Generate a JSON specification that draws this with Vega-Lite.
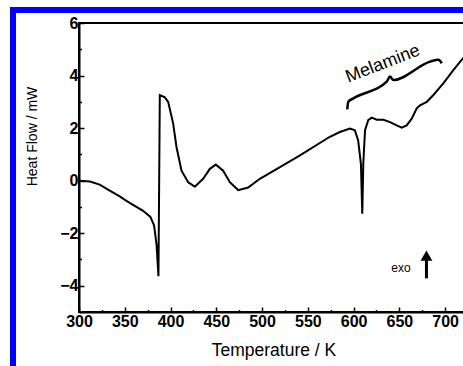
{
  "$schema": "https://vega.github.io/schema/vega-lite/v6.json",
  "autosize": "none",
  "width": 389,
  "height": 289,
  "padding": {"left": 79, "top": 23, "right": 0, "bottom": 54},
  "background": "white",
  "config": {
    "view": {"stroke": "black", "strokeWidth": 2},
    "font": "Liberation Sans",
    "axis": {"grid": false, "domainColor": "black", "domainWidth": 2, "tickColor": "black", "tickWidth": 1.5, "labelFont": "Liberation Sans", "labelFontWeight": "bold", "labelFontSize": 16, "labelColor": "black", "titleFont": "Liberation Sans", "titleFontWeight": "normal", "titleColor": "black"}
  },
  "datasets": {
    "dsc": [
      {"T": 300, "v": 0.0}, {"T": 312, "v": -0.03}, {"T": 322.6, "v": -0.15}, {"T": 333.6, "v": -0.38}, {"T": 344.5, "v": -0.6}, {"T": 351.8, "v": -0.77}, {"T": 370, "v": -1.15}, {"T": 378, "v": -1.38}, {"T": 382, "v": -1.7}, {"T": 384.7, "v": -2.43}, {"T": 386.8, "v": -3.64}, {"T": 388.3, "v": 3.26}, {"T": 393.8, "v": 3.17}, {"T": 397.4, "v": 3.0}, {"T": 402.9, "v": 2.17}, {"T": 406.5, "v": 1.28}, {"T": 412, "v": 0.38}, {"T": 419.3, "v": -0.06}, {"T": 426.5, "v": -0.23}, {"T": 435.6, "v": 0.07}, {"T": 443, "v": 0.45}, {"T": 449.5, "v": 0.61}, {"T": 457.5, "v": 0.38}, {"T": 464.8, "v": -0.06}, {"T": 473.9, "v": -0.36}, {"T": 484.8, "v": -0.26}, {"T": 497.6, "v": 0.07}, {"T": 541, "v": 0.95}, {"T": 573.6, "v": 1.66}, {"T": 585, "v": 1.85}, {"T": 596, "v": 1.98}, {"T": 601.4, "v": 1.92}, {"T": 605, "v": 1.53}, {"T": 608, "v": 0.64}, {"T": 609.5, "v": -1.26}, {"T": 610.6, "v": 0.64}, {"T": 612.5, "v": 1.92}, {"T": 616, "v": 2.3}, {"T": 619.8, "v": 2.4}, {"T": 625.3, "v": 2.32}, {"T": 632.6, "v": 2.32}, {"T": 639.8, "v": 2.23}, {"T": 647.1, "v": 2.1}, {"T": 652.6, "v": 2.02}, {"T": 658, "v": 2.1}, {"T": 663.5, "v": 2.36}, {"T": 669, "v": 2.75}, {"T": 672.6, "v": 2.87}, {"T": 680, "v": 3.0}, {"T": 687.2, "v": 3.26}, {"T": 698, "v": 3.7}, {"T": 709, "v": 4.21}, {"T": 719.6, "v": 4.66}, {"T": 725, "v": 4.9}
    ],
    "brace": [
      {"T": 593.1, "v": 2.71}, {"T": 594.2, "v": 3.0}, {"T": 599.7, "v": 3.13}, {"T": 636.2, "v": 3.77}, {"T": 639.8, "v": 3.96}, {"T": 643.4, "v": 3.83}, {"T": 683.6, "v": 4.53}, {"T": 692.7, "v": 4.6}, {"T": 696.4, "v": 4.47}
    ],
    "labels": [
      {"T": 632, "v": 4.44, "text": "Melamine", "kind": "big"},
      {"T": 651.8, "v": -3.33, "text": "exo", "kind": "small"}
    ],
    "arrow": [{"T": 679.6, "v0": -3.72, "v1": -2.85}]
  },
  "layer": [
    {
      "data": {"name": "dsc"},
      "mark": {"type": "line", "color": "black", "strokeWidth": 2, "clip": true},
      "encoding": {
        "x": {"field": "T", "type": "quantitative", "scale": {"domain": [300, 725], "nice": false, "zero": false},
          "axis": {"title": "Temperature / K", "titleFontSize": 17.5, "titlePadding": 12, "values": [300, 350, 400, 450, 500, 550, 600, 650, 700], "tickSize": -5, "labelPadding": 6, "labelFlush": false, "orient": "bottom"}},
        "y": {"field": "v", "type": "quantitative", "scale": {"domain": [-5, 6], "nice": false, "zero": false},
          "axis": {"title": "Heat Flow / mW", "titleFontSize": 14, "titleX": -40, "titleY": 113, "values": [-4, -2, 0, 2, 4, 6], "tickSize": -5, "labelPadding": 6, "labelFlush": false, "orient": "left"}}
      }
    },
    {
      "data": {"name": "brace"},
      "mark": {"type": "line", "color": "black", "strokeWidth": 2.5, "interpolate": "monotone"},
      "encoding": {
        "x": {"field": "T", "type": "quantitative", "axis": {"values": [325, 375, 425, 475, 525, 575, 625, 675, 725], "tickSize": -2.5, "labels": false, "domain": false, "title": null, "orient": "bottom"}},
        "y": {"field": "v", "type": "quantitative", "axis": {"values": [-5, -3, -1, 1, 3, 5], "tickSize": -2.5, "labels": false, "domain": false, "title": null, "orient": "left"}}
      }
    },
    {
      "data": {"name": "labels"},
      "transform": [{"filter": "datum.kind == 'big'"}],
      "mark": {"type": "text", "fontSize": 18, "angle": 339, "font": "Liberation Sans", "color": "black"},
      "encoding": {"x": {"field": "T", "type": "quantitative", "axis": null}, "y": {"field": "v", "type": "quantitative", "axis": null}, "text": {"field": "text"}}
    },
    {
      "data": {"name": "labels"},
      "transform": [{"filter": "datum.kind == 'small'"}],
      "mark": {"type": "text", "fontSize": 12, "font": "Liberation Sans", "color": "black"},
      "encoding": {"x": {"field": "T", "type": "quantitative", "axis": null}, "y": {"field": "v", "type": "quantitative", "axis": null}, "text": {"field": "text"}}
    },
    {
      "data": {"name": "arrow"},
      "mark": {"type": "rule", "color": "black", "strokeWidth": 3},
      "encoding": {"x": {"field": "T", "type": "quantitative", "axis": null}, "y": {"field": "v0", "type": "quantitative", "axis": null}, "y2": {"field": "v1"}}
    },
    {
      "data": {"name": "arrow"},
      "mark": {"type": "point", "shape": "triangle-up", "filled": true, "color": "black", "opacity": 1, "size": 140},
      "encoding": {"x": {"field": "T", "type": "quantitative", "axis": null}, "y": {"field": "v1", "type": "quantitative", "axis": null}}
    },
    {
      "data": {"values": [{}]},
      "mark": {"type": "rect", "fill": null, "fillOpacity": 0, "stroke": "#0000ff", "strokeWidth": 6, "clip": false},
      "encoding": {"x": {"datum": 227.9, "type": "quantitative", "axis": null}, "x2": {"datum": 800}, "y": {"datum": 6.495, "type": "quantitative", "axis": null}, "y2": {"datum": -8}}
    }
  ],
  "resolve": {"axis": {"x": "independent", "y": "independent"}}
}
